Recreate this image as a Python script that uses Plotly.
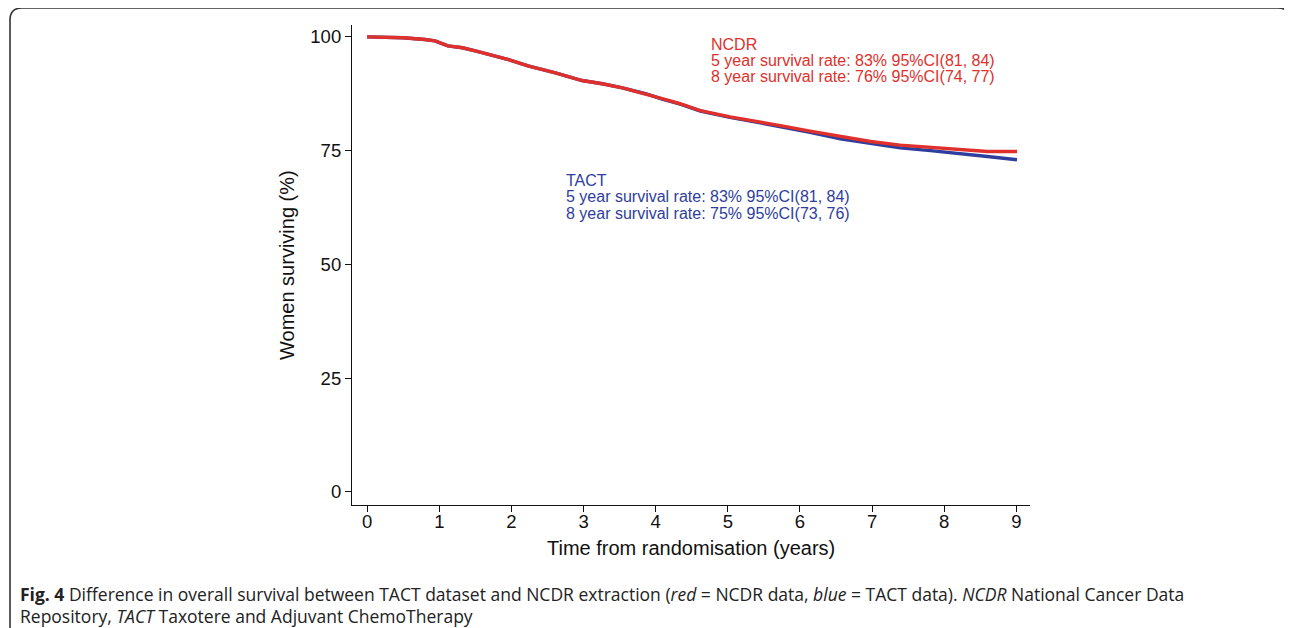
import plotly.graph_objects as go

# ---- data ----
years = [0, 0.5, 0.8, 0.94, 1.12, 1.32, 1.5, 1.68, 1.96, 2.23, 2.61, 2.98, 3.26, 3.54, 3.86,
         4.09, 4.34, 4.62, 5.03, 5.45, 5.73, 6.14, 6.56, 6.98, 7.39, 7.81, 8.22, 8.6, 9.01]
ncdr = [100, 99.8, 99.4, 99.1, 98.0, 97.6, 96.9, 96.1, 95.0, 93.6, 92.1, 90.4, 89.7, 88.8, 87.5,
        86.4, 85.3, 83.8, 82.4, 81.3, 80.5, 79.3, 78.1, 77.0, 76.2, 75.7, 75.3, 74.8, 74.8]
tact = [100, 99.8, 99.4, 99.1, 98.0, 97.6, 96.9, 96.1, 95.0, 93.6, 92.1, 90.4, 89.7, 88.8, 87.5,
        86.3, 85.2, 83.7, 82.3, 81.1, 80.3, 79.0, 77.6, 76.5, 75.6, 75.0, 74.4, 73.7, 73.0]

x_ticks = [0, 1, 2, 3, 4, 5, 6, 7, 8, 9]
y_ticks = [0, 25, 50, 75, 100]

ncdr_text = ["NCDR", "5 year survival rate: 83% 95%CI(81, 84)", "8 year survival rate: 76% 95%CI(74, 77)"]
tact_text = ["TACT", "5 year survival rate: 83% 95%CI(81, 84)", "8 year survival rate: 75% 95%CI(73, 76)"]

caption_l1 = ("<b>Fig. 4</b> Difference in overall survival between TACT dataset and NCDR extraction "
              "(<i>red</i> = NCDR data, <i>blue</i> = TACT data). <i>NCDR</i> National Cancer Data")
caption_l2 = "Repository, <i>TACT</i> Taxotere and Adjuvant ChemoTherapy"

RED = "#E0302C"
BLUE = "#2E3E9C"
OFF = 8  # page body margin
W, H = 1292 - OFF, 628 - OFF
L, R, T, B = 352 - OFF, 1030 - OFF, 25 - OFF, 505 - OFF

fig = go.Figure()
fig.add_trace(go.Scatter(x=years, y=tact, mode="lines", line=dict(color=BLUE, width=3.4),
                         name="TACT", showlegend=False))
fig.add_trace(go.Scatter(x=years, y=ncdr, mode="lines", line=dict(color=RED, width=3.4),
                         name="NCDR", showlegend=False))

font_main = "Liberation Sans, Arial, sans-serif"
font_cap = "Open Sans, sans-serif"

def px_x(p):
    return (p - OFF - L) / (R - L)

def px_y(p):
    return (B - (p - OFF)) / (B - T)

anns = []
for i, t in enumerate(ncdr_text):
    anns.append(dict(text=t, x=px_x(709), y=px_y(45 + 16 * i), xref="paper", yref="paper",
                     xanchor="left", yanchor="middle", showarrow=False,
                     font=dict(family=font_main, size=16, color=RED)))
for i, t in enumerate(tact_text):
    anns.append(dict(text=t, x=px_x(564), y=px_y(181 + 16 * i), xref="paper", yref="paper",
                     xanchor="left", yanchor="middle", showarrow=False,
                     font=dict(family=font_main, size=16, color=BLUE)))
anns.append(dict(text="Women surviving (%)", x=px_x(287), y=px_y(265), xref="paper", yref="paper",
                 textangle=-90, showarrow=False, xanchor="center", yanchor="middle",
                 font=dict(family=font_main, size=20, color="#111")))
anns.append(dict(text="Time from randomisation (years)", x=px_x(691), y=px_y(548), xref="paper",
                 yref="paper", showarrow=False, xanchor="center", yanchor="middle",
                 font=dict(family=font_main, size=20, color="#111")))
anns.append(dict(text=caption_l1, x=px_x(18), y=px_y(594), xref="paper", yref="paper",
                 showarrow=False, xanchor="left", yanchor="middle",
                 font=dict(family=font_cap, size=17.5, color="#222")))
anns.append(dict(text=caption_l2, x=px_x(18), y=px_y(616), xref="paper", yref="paper",
                 showarrow=False, xanchor="left", yanchor="middle",
                 font=dict(family=font_cap, size=17.5, color="#222")))

# rounded frame
x0, x1, y0, y1, r = 10, 1290, 8, 660, 12
path = (f"M {px_x(x0)},{px_y(y1)} L {px_x(x0)},{px_y(y0 + r)} "
        f"Q {px_x(x0)},{px_y(y0)} {px_x(x0 + r)},{px_y(y0)} "
        f"L {px_x(x1 - r)},{px_y(y0)} Q {px_x(x1)},{px_y(y0)} {px_x(x1)},{px_y(y0 + r)} "
        f"L {px_x(x1)},{px_y(y1)}")
shapes = [dict(type="path", path=path, xref="paper", yref="paper",
               line=dict(color="#333", width=1.6))]

fig.update_layout(
    width=W, height=H,
    margin=dict(l=L, r=W - R, t=T, b=H - B, pad=0),
    paper_bgcolor="white", plot_bgcolor="white",
    annotations=anns, shapes=shapes,
    xaxis=dict(range=[-0.21, 9.19], tickvals=x_ticks, ticks="outside", ticklen=6, tickwidth=1,
               tickcolor="#111", showline=True, linecolor="#111", linewidth=1.2, showgrid=False,
               zeroline=False, ticklabelstandoff=-6,
               tickfont=dict(family=font_main, size=18.5, color="#111")),
    yaxis=dict(range=[-2.86, 102.6], tickvals=y_ticks, ticks="outside", ticklen=6, tickwidth=1,
               tickcolor="#111", showline=True, linecolor="#111", linewidth=1.2, showgrid=False,
               zeroline=False, tickfont=dict(family=font_main, size=18.5, color="#111")),
)

fig.write_html("out.html")
